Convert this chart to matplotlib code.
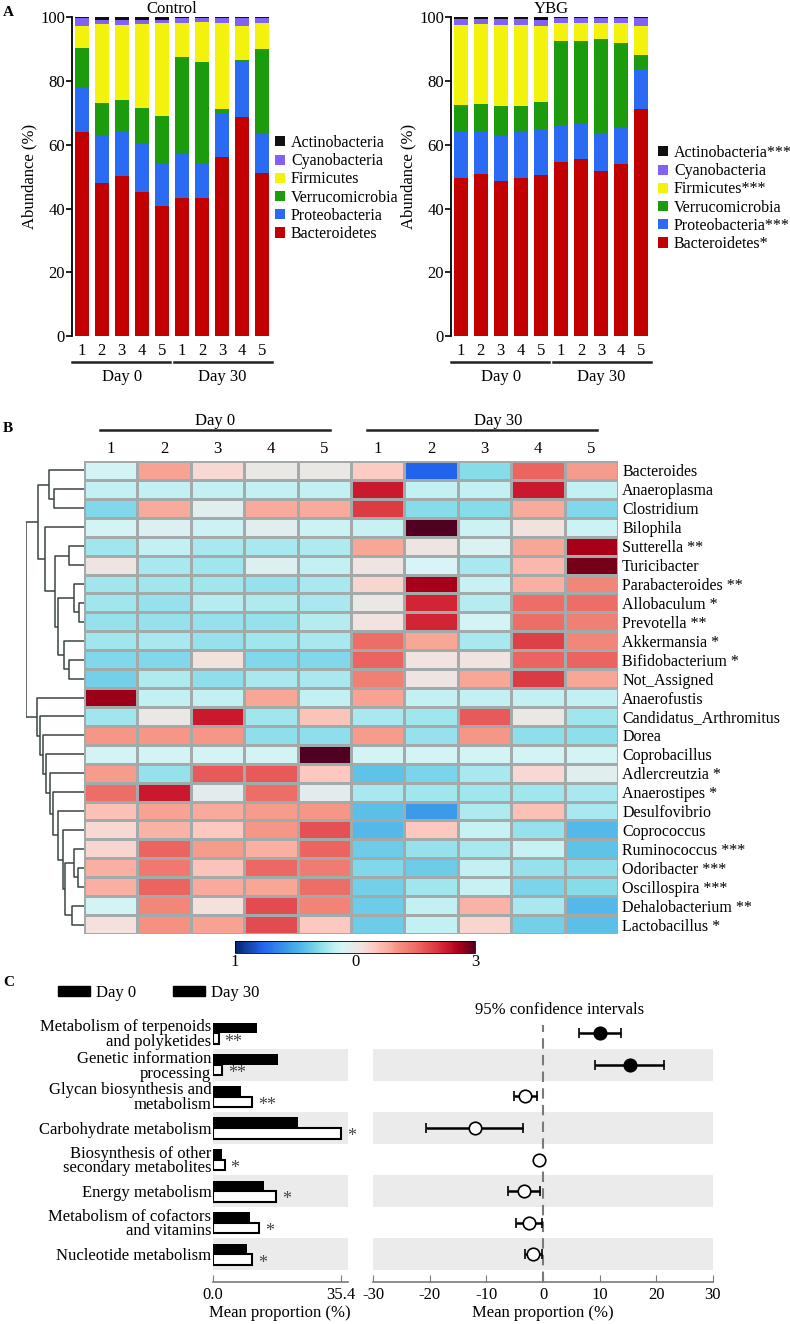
import numpy as np
import matplotlib
matplotlib.use('Agg')
import matplotlib.pyplot as plt
import matplotlib.transforms as mtransforms
from matplotlib.colors import LinearSegmentedColormap, Normalize
from matplotlib.patches import Patch

plt.rcParams['font.family'] = ['Liberation Serif', 'DejaVu Serif']
plt.rcParams['font.size'] = 11.5
plt.rcParams['axes.unicode_minus'] = False
FS = 11.5

# ---------------- panel A data (abundance %, samples 1-5 day 0, 1-5 day 30)
sample_labels = ['1', '2', '3', '4', '5', '1', '2', '3', '4', '5']
phyla = ['Bacteroidetes', 'Proteobacteria', 'Verrucomicrobia', 'Firmicutes',
         'Cyanobacteria', 'Actinobacteria']
phyla_colors = ['#c20000', '#2b6af2', '#1c9c0c', '#f2f20c', '#8262f2', '#101010']
ybg_labels = ['Bacteroidetes*', 'Proteobacteria***', 'Verrucomicrobia', 'Firmicutes***',
              'Cyanobacteria', 'Actinobacteria***']

ctrl_bacteroidetes = [64.1, 48.1, 50.3, 45.1, 40.9, 43.4, 43.2, 56.3, 68.8, 51.2]
ctrl_proteobacteria = [13.9, 14.7, 14.1, 15.2, 13.0, 13.6, 11.0, 13.6, 17.5, 12.1]
ctrl_verrucomicrobia = [12.5, 10.2, 9.8, 11.1, 15.1, 30.6, 31.7, 1.2, 0.3, 26.9]
ctrl_firmicutes = [6.9, 24.8, 23.4, 26.5, 29.1, 10.7, 12.7, 27.0, 10.8, 7.9]
ctrl_cyanobacteria = [2.3, 1.4, 1.6, 1.3, 1.1, 1.6, 1.3, 1.6, 2.3, 1.8]
ctrl_actinobacteria = [0.3, 0.8, 0.8, 0.8, 0.8, 0.1, 0.1, 0.3, 0.3, 0.1]

ybg_bacteroidetes = [49.7, 50.8, 48.6, 49.7, 50.6, 54.7, 55.4, 51.8, 53.9, 71.1]
ybg_proteobacteria = [14.4, 13.6, 14.3, 14.6, 14.1, 11.5, 11.1, 11.8, 11.3, 12.7]
ybg_verrucomicrobia = [8.5, 8.4, 9.3, 7.9, 8.6, 26.5, 26.1, 29.5, 26.6, 4.3]
ybg_firmicutes = [25.0, 25.0, 25.4, 25.4, 24.0, 5.6, 5.5, 5.0, 6.3, 9.2]
ybg_cyanobacteria = [1.8, 1.6, 1.8, 1.8, 1.9, 1.6, 1.8, 1.8, 1.8, 2.4]
ybg_actinobacteria = [0.6, 0.6, 0.6, 0.6, 0.8, 0.1, 0.1, 0.1, 0.1, 0.3]

# ---------------- panel B data (z-scores, columns day0 1-5, day30 1-5)
genera = ['Bacteroides', 'Anaeroplasma', 'Clostridium', 'Bilophila', 'Sutterella **',
          'Turicibacter', 'Parabacteroides **', 'Allobaculum *', 'Prevotella **',
          'Akkermansia *', 'Bifidobacterium *', 'Not_Assigned', 'Anaerofustis',
          'Candidatus_Arthromitus', 'Dorea', 'Coprobacillus', 'Adlercreutzia *',
          'Anaerostipes *', 'Desulfovibrio', 'Coprococcus', 'Ruminococcus ***',
          'Odoribacter ***', 'Oscillospira ***', 'Dehalobacterium **', 'Lactobacillus *']
heat_values = [
    [-0.35, 0.95, 0.3, 0.0, 0.02, 0.45, -2.3, -0.9, 1.6, 1.0],
    [-0.5, -0.5, -0.5, -0.5, -0.5, 2.3, -0.5, -0.5, 2.3, -0.5],
    [-0.95, 0.85, -0.15, 0.85, 0.85, 2.0, -0.9, -0.9, 0.85, -0.95],
    [-0.35, -0.2, -0.4, -0.15, -0.4, -0.45, 3.0, -0.4, 0.15, -0.4],
    [-0.75, -0.5, -0.7, -0.7, -0.65, 0.9, 0.1, -0.25, 0.9, 2.6],
    [0.1, -0.7, -0.75, -0.2, -0.5, 0.1, -0.3, -0.7, 0.7, 2.85],
    [-0.75, -0.75, -0.75, -0.8, -0.7, 0.35, 2.6, -0.45, 0.8, 1.2],
    [-0.75, -0.8, -0.6, -0.65, -0.7, 0.02, 2.2, -0.6, 1.5, 1.5],
    [-0.8, -0.8, -0.8, -0.8, -0.6, 0.12, 2.2, -0.35, 1.5, 1.3],
    [-0.75, -0.7, -0.8, -0.75, -0.7, 1.5, 0.9, -0.7, 1.95, 1.2],
    [-0.95, -0.95, 0.15, -0.95, -0.95, 1.6, 0.12, 0.12, 1.6, 1.6],
    [-1.05, -0.65, -0.85, -0.7, -0.7, 1.3, 0.1, 0.9, 2.0, 0.9],
    [2.65, -0.5, -0.5, 0.9, -0.5, 0.95, -0.5, -0.5, -0.5, -0.5],
    [-0.75, 0.0, 2.3, -0.75, 0.55, -0.7, -0.75, 1.7, 0.0, -0.75],
    [1.05, 1.05, 1.05, -0.85, -0.85, 1.0, -0.8, 1.05, -0.85, -0.85],
    [-0.35, -0.35, -0.35, -0.35, 3.0, -0.35, -0.35, -0.35, -0.35, -0.35],
    [1.0, -0.8, 1.7, 1.7, 0.5, -1.2, -1.0, -0.7, 0.3, -0.15],
    [1.5, 2.3, -0.1, 1.5, -0.1, -0.7, -0.75, -0.75, -0.75, -0.7],
    [0.6, 0.95, 0.85, 1.0, 1.05, -1.25, -1.7, -0.65, 0.6, -0.7],
    [0.3, 0.75, 0.5, 1.05, 1.8, -1.35, 0.5, -0.45, -0.8, -1.35],
    [0.35, 1.6, 1.0, 0.8, 1.6, -1.1, -0.8, -0.7, -0.45, -1.2],
    [0.8, 1.4, 0.55, 1.55, 1.35, -0.95, -1.1, -0.5, -0.8, -0.85],
    [0.8, 1.6, 0.85, 0.9, 1.5, -1.05, -0.75, -0.45, -1.0, -0.9],
    [-0.35, 1.2, 0.2, 1.85, 1.25, -1.1, -0.5, 0.75, -0.7, -1.35],
    [0.2, 1.1, 0.95, 1.85, 0.5, -1.1, -0.5, 0.35, -1.05, -1.25],
]
# row clustering: (child a, child b, height); new clusters get ids 25, 26, ...
dendro_merges = [
    (7, 8, 0.09), (6, 25, 0.18), (10, 11, 0.26), (9, 27, 0.34), (26, 28, 0.44),
    (4, 5, 0.26), (30, 29, 0.50), (3, 31, 0.68), (1, 2, 0.52), (0, 33, 0.60),
    (34, 32, 0.79),
    (21, 22, 0.11), (20, 36, 0.18), (23, 24, 0.21), (37, 38, 0.33), (19, 39, 0.36),
    (18, 40, 0.44), (17, 41, 0.53), (16, 42, 0.59), (15, 43, 0.66), (14, 44, 0.71),
    (13, 45, 0.76), (12, 46, 0.81), (35, 47, 1.0),
]

# ---------------- panel C data
pathways = ['Metabolism of terpenoids\nand polyketides', 'Genetic information\nprocessing',
            'Glycan biosynthesis and\nmetabolism', 'Carbohydrate metabolism',
            'Biosynthesis of other\nsecondary metabolites', 'Energy metabolism',
            'Metabolism of cofactors\nand vitamins', 'Nucleotide metabolism']
mean_day0 = [12.1, 17.9, 7.7, 23.4, 2.5, 14.2, 10.3, 9.5]
mean_day30 = [1.6, 2.6, 10.9, 35.4, 3.3, 17.5, 12.8, 10.9]
signif = ['**', '**', '**', '*', '*', '*', '*', '*']
diff_mean = [10.1, 15.3, -3.2, -12.1, -0.7, -3.4, -2.5, -1.7]
ci_low = [6.4, 9.2, -5.1, -20.7, -1.0, -6.1, -4.7, -3.2]
ci_high = [13.8, 21.4, -1.1, -3.5, -0.3, -0.5, -0.2, -0.1]

W, H = 790, 1324
fig = plt.figure(figsize=(W / 100, H / 100), dpi=100)


def box(x0, y0, x1, y1):
    return [x0 / W, 1 - y1 / H, (x1 - x0) / W, (y1 - y0) / H]


# ================= Panel A =================
def stacked(rect, parts, labels, title, legend_xy):
    ax = fig.add_axes(rect)
    x = np.arange(len(sample_labels))
    bottom = np.zeros(len(x))
    for vals, col, lab in zip(parts, phyla_colors, labels):
        ax.bar(x, vals, bottom=bottom, width=0.71, color=col, label=lab)
        bottom += np.array(vals)
    ax.set_xlim(-0.48, 9.48)
    ax.set_ylim(0, 100)
    for s in ['top', 'right', 'bottom']:
        ax.spines[s].set_visible(False)
    ax.spines['left'].set_linewidth(1.3)
    ax.set_yticks([0, 20, 40, 60, 80, 100])
    ax.tick_params(axis='y', direction='out', length=4, width=1.2, labelsize=FS + 0.5, pad=1)
    ax.set_xticks(x)
    ax.set_xticklabels(sample_labels)
    ax.tick_params(axis='x', length=0, labelsize=FS + 0.5, pad=5)
    ax.set_ylabel('Abundance (%)', fontsize=FS + 0.5, labelpad=2)
    ax.set_title(title, fontsize=FS + 0.5, pad=2)
    tr = mtransforms.blended_transform_factory(ax.transData, ax.transAxes)
    ax.plot([-0.48, 4.42], [-0.082, -0.082], color='#222222', lw=1.8, transform=tr, clip_on=False)
    ax.plot([4.58, 9.48], [-0.082, -0.082], color='#222222', lw=1.8, transform=tr, clip_on=False)
    ax.text(2.0, -0.13, 'Day 0', transform=tr, ha='center', va='center', fontsize=FS + 0.5)
    ax.text(7.0, -0.13, 'Day 30', transform=tr, ha='center', va='center', fontsize=FS + 0.5)
    h, l = ax.get_legend_handles_labels()
    fig.legend(h[::-1], l[::-1], loc='upper left',
               bbox_to_anchor=(legend_xy[0] / W, 1 - legend_xy[1] / H),
               frameon=False, fontsize=FS, handlelength=0.6, handleheight=0.6,
               handletextpad=0.4, labelspacing=0.14, borderpad=0, borderaxespad=0)
    return ax


stacked(box(72, 17.3, 272, 336),
        [ctrl_bacteroidetes, ctrl_proteobacteria, ctrl_verrucomicrobia,
         ctrl_firmicutes, ctrl_cyanobacteria, ctrl_actinobacteria],
        phyla, 'Control', (275, 135))
stacked(box(451, 17.3, 651, 336),
        [ybg_bacteroidetes, ybg_proteobacteria, ybg_verrucomicrobia,
         ybg_firmicutes, ybg_cyanobacteria, ybg_actinobacteria],
        ybg_labels, 'YBG', (658, 145))

fig.text(3 / W, 1 - 12 / H, 'A', fontsize=11, fontweight='bold', va='center')
fig.text(3 / W, 1 - 428 / H, 'B', fontsize=11, fontweight='bold', va='center')
fig.text(3 / W, 1 - 982 / H, 'C', fontsize=11, fontweight='bold', va='center')

# ================= Panel B =================
anchors = [(-3.0, '#08246e'), (-2.3, '#2266ee'), (-1.6, '#40a4e8'), (-1.2, '#60c4e8'),
           (-0.9, '#88dcea'), (-0.7, '#a8e8ee'), (-0.5, '#c4f0f2'), (-0.3, '#d8f4f6'),
           (0.0, '#e8e8e6'), (0.2, '#f4e0dc'), (0.5, '#fcc8c0'), (0.9, '#f8a898'),
           (1.1, '#f49080'), (1.5, '#ee7068'), (1.7, '#e85a5a'), (2.0, '#dc3c44'),
           (2.3, '#cc1a2e'), (2.6, '#a80018'), (2.85, '#780018'), (3.0, '#500020')]
cmap = LinearSegmentedColormap.from_list('heat', [((v + 3) / 6, c) for v, c in anchors])
norm = Normalize(-3, 3)

axh = fig.add_axes(box(84, 461, 618, 934))
vals = np.array(heat_values)
mesh = axh.pcolormesh(np.arange(11) - 0.5, np.arange(len(genera) + 1) - 0.5, vals,
                      cmap=cmap, norm=norm, edgecolors='#a2aaaa', linewidth=0.8)
axh.set_xlim(-0.5, 9.5)
axh.set_ylim(len(genera) - 0.5, -0.5)
for s in axh.spines.values():
    s.set_visible(False)
axh.xaxis.tick_top()
axh.set_xticks(np.arange(10))
axh.set_xticklabels(sample_labels)
axh.yaxis.tick_right()
axh.set_yticks(np.arange(len(genera)))
axh.set_yticklabels(genera)
axh.tick_params(axis='x', length=0, labelsize=FS + 0.5, pad=3)
axh.tick_params(axis='y', length=0, labelsize=FS, pad=3)
trh = mtransforms.blended_transform_factory(axh.transData, axh.transAxes)
axh.plot([-0.2, 4.1], [1.0655, 1.0655], color='#222222', lw=1.8, transform=trh, clip_on=False)
axh.plot([4.8, 9.1], [1.0655, 1.0655], color='#222222', lw=1.8, transform=trh, clip_on=False)
axh.text(1.95, 1.085, 'Day 0', transform=trh, ha='center', va='center', fontsize=FS + 0.5)
axh.text(7.25, 1.085, 'Day 30', transform=trh, ha='center', va='center', fontsize=FS + 0.5)

# dendrogram
axd = fig.add_axes(box(26, 461, 84, 934))
ypos = {i: float(i) for i in range(len(genera))}
hpos = {i: 0.0 for i in range(len(genera))}
for k, (a, b, hgt) in enumerate(dendro_merges):
    axd.plot([hpos[a], hgt, hgt, hpos[b]], [ypos[a], ypos[a], ypos[b], ypos[b]],
             color='#3a4444', lw=1.1, solid_capstyle='butt')
    ypos[len(genera) + k] = (ypos[a] + ypos[b]) / 2
    hpos[len(genera) + k] = hgt
axd.set_xlim(1.0, 0.0)
axd.set_ylim(len(genera) - 0.5, -0.5)
axd.axis('off')

# colour bar
cax = fig.add_axes(box(235, 941, 475, 953))
cb = fig.colorbar(mesh, cax=cax, orientation='horizontal', ticks=[-3, 0, 3])
cb.ax.set_xticklabels(['1', '0', '3'])
cb.outline.set_linewidth(0.6)
cax.tick_params(length=0, labelsize=FS + 0.5, pad=1)

# ================= Panel C =================
rows = np.arange(len(pathways))
ylim_c = (7.87, -0.5)

axl = fig.add_axes(box(212.7, 1017.5, 347.7, 1281.7))
axr = fig.add_axes(box(373.3, 1017.5, 712.7, 1281.7))
for ax in (axl, axr):
    for r in rows[1::2]:
        ax.axhspan(r - 0.5, r + 0.5, color='#ebebeb', lw=0, zorder=0)
    ax.set_ylim(*ylim_c)
    for s in ['top', 'right', 'left']:
        ax.spines[s].set_visible(False)
    ax.spines['bottom'].set_color('#7a7a7a')
    ax.spines['bottom'].set_linewidth(1.2)
    ax.tick_params(axis='x', direction='in', length=5, color='#7a7a7a', labelsize=FS + 0.5, pad=4)
    ax.set_xlabel('Mean proportion (%)', fontsize=FS + 0.5, labelpad=1)

axl.barh(rows - 0.17, mean_day0, height=0.33, color='black', zorder=2)
axl.barh(rows + 0.17, mean_day30, height=0.33, facecolor='white', edgecolor='black',
         lw=1.5, zorder=2)
for r, v, s in zip(rows, mean_day30, signif):
    axl.annotate(s, (v, r + 0.28), xytext=(4, 0), textcoords='offset points',
                 ha='left', va='center', fontsize=13, color='#444444')
axl.set_xlim(0, 37.2)
axl.set_xticks([0, 35.4])
axl.set_xticklabels(['0.0', '35.4'])
axl.set_yticks(rows)
axl.set_yticklabels(pathways, fontsize=FS + 0.5, linespacing=0.9)
axl.tick_params(axis='y', length=0, pad=1)

axr.axvline(0, ymin=0.0, ymax=0.97, color='#7a7a7a', lw=1.5, ls=(0, (5, 3)), zorder=1)
for r, m, lo, hi in zip(rows, diff_mean, ci_low, ci_high):
    axr.errorbar(m, r, xerr=[[m - lo], [hi - m]], fmt='o', ms=9,
                 mfc='black' if m > 0 else 'white', mec='black', mew=1.2,
                 color='black', elinewidth=1.8, capsize=3.5, capthick=1.2, zorder=3)
axr.set_xlim(-30, 30)
axr.set_xticks([-30, -20, -10, 0, 10, 20, 30])
axr.set_yticks([])
axr.text(3, -0.5, '95% confidence intervals', ha='center', va='bottom', fontsize=FS + 0.5)

fig.legend([Patch(color='black'), Patch(color='black')], ['Day 0', 'Day 30'],
           loc='upper left', bbox_to_anchor=(58 / W, 1 - 985 / H), ncol=2,
           frameon=False, fontsize=FS + 0.5, handlelength=1.9, handleheight=0.5,
           handletextpad=0.4, columnspacing=2.2, borderpad=0, borderaxespad=0)

fig.savefig('out.png', dpi=100)
